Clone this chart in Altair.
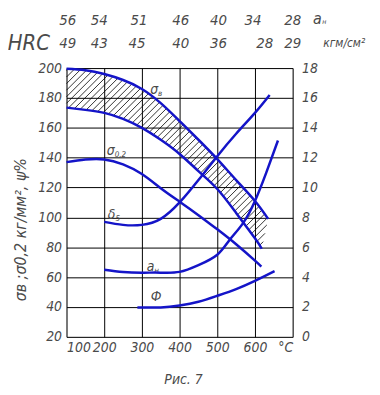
import altair as alt
import pandas as pd
import numpy as np

# ---- data (x in °C) ----
sv_x = [100, 150, 200, 250, 300, 350, 400, 450, 500, 550, 600, 635]
sv_y = [199.5, 198.5, 196, 192, 186, 176.5, 164.5, 152, 139, 125, 111, 99]
band_x = [100, 150, 200, 250, 300, 350, 400, 450, 500, 550, 600, 618]
band_y = [173.5, 172, 170, 166, 160, 152, 142.5, 131, 119, 103, 86, 79]
s02_x = [100, 150, 200, 250, 300, 350, 400, 450, 500, 550, 600, 617]
s02_y = [137, 138.7, 138.8, 135.5, 129, 119.5, 110.5, 101.5, 92, 82, 71, 67]
d5_x = [200, 250, 300, 350, 400, 450, 500, 550, 600, 639]
d5_y = [7.7, 7.5, 7.5, 7.9, 9.0, 10.5, 12.1, 13.6, 15.0, 16.2]
an_x = [200, 250, 300, 350, 400, 450, 500, 533, 568, 600, 630, 661]
an_y = [4.5, 4.35, 4.3, 4.3, 4.35, 4.8, 5.5, 6.5, 7.6, 9.1, 11.0, 13.15]
phi_x = [288, 350, 400, 450, 500, 550, 600, 652]
phi_y = [1.97, 1.97, 2.1, 2.35, 2.75, 3.2, 3.75, 4.4]

hrc_top = ["56", "54", "51", "46", "40", "34", "28"]
hrc_bot = ["49", "43", "45", "40", "36", "28", "29"]
hrc_x = [103, 187, 292, 403, 503, 595, 700]
hrc_x2 = [103, 187, 287, 403, 503, 626, 700]

left_ticks = list(range(20, 201, 20))
right_ticks = list(range(0, 19, 2))
x_ticks = list(range(100, 701, 100))

W, H = 228, 271
FONT = "'DejaVu Sans Condensed', 'Liberation Sans Narrow', 'DejaVu Sans'"
TXT = "#4a4a4a"
BLUE = "#1414c8"

xs = alt.Scale(domain=[100, 700], nice=False)
ysL = alt.Scale(domain=[20, 200], nice=False)
ysR = alt.Scale(domain=[0, 18], nice=False)

def curve(xv, yv, name):
    return pd.DataFrame({"t": xv, "v": yv, "name": name, "o": range(len(xv))})

left_df = pd.concat([curve(sv_x, sv_y, "sv"), curve(band_x, band_y, "band"),
                     curve(s02_x, s02_y, "s02")])
right_df = pd.concat([curve(d5_x, d5_y, "d5"), curve(an_x, an_y, "an"),
                      curve(phi_x, phi_y, "phi")])

# hatch lines between the two band edges ("/" at 45 deg in pixels)
kx = W / 600.0
ky = H / 180.0
slope = kx / ky
xd = np.linspace(100, 635, 4000)
up = np.interp(xd, sv_x, sv_y)
lo = np.interp(xd, band_x, band_y)
rows = []
for c in np.arange(-70, 205, 4.4):
    yl = c + slope * (xd - 100)
    xr = band_x[-1] + (yl - band_y[-1]) * (sv_x[-1] - band_x[-1]) / (sv_y[-1] - band_y[-1])
    inside = (yl <= up) & (yl >= lo) & (xd <= xr)
    if inside.sum() > 3:
        idx = np.where(inside)[0]
        rows.append({"t": xd[idx[0]], "v": yl[idx[0]], "t2": xd[idx[-1]], "v2": yl[idx[-1]]})
hatch_df = pd.DataFrame(rows)

lab_kw = dict(labelFont=FONT, labelFontStyle="italic", labelFontSize=14,
              labelColor=TXT, labelOverlap=False)
ax_x = alt.Axis(values=x_ticks, grid=True, gridColor="black", gridOpacity=1, gridWidth=1,
                ticks=False, domain=False, labelPadding=4,
                labelExpr="datum.value == 700 ? '°C' : datum.label", title=None, **lab_kw)
ax_l = alt.Axis(values=left_ticks, grid=True, gridColor="black", gridOpacity=1, gridWidth=1,
                ticks=False, domain=False, labelPadding=5, title=None, **lab_kw)
ax_r = alt.Axis(values=right_ticks, grid=False, orient="right", ticks=False,
                domain=False, labelPadding=9, title=None, **lab_kw)

X = alt.X("t:Q", scale=xs, axis=ax_x)
YL = alt.Y("v:Q", scale=ysL, axis=ax_l)

hatch = alt.Chart(hatch_df).mark_rule(color="black", strokeWidth=0.8).encode(
    x=X, y=YL, x2="t2:Q", y2="v2:Q")

left_lines = alt.Chart(left_df).mark_line(color=BLUE, strokeWidth=2.5,
                                           interpolate="natural").encode(
    x=X, y=YL, detail="name:N", order="o:Q")

# curve labels (left units)
lab_main = ["σ", "σ", "δ", "a", "Ф"]
lab_sub = ["в", "0,2", "5", "н", ""]
lab_t = [343, 228, 230, 333, 352]
lab_v = [185.5, 144.5, 101.5, 66.5, 47]
lab_df = pd.DataFrame({"t": lab_t, "v": lab_v, "m": lab_main, "s": lab_sub})
labels_m = alt.Chart(lab_df).mark_text(font=FONT, fontStyle="italic",
                                       fontSize=14, color=TXT, align="right",
                                       baseline="middle").encode(
    x=X, y=YL, text="m:N")
labels_s = alt.Chart(lab_df).mark_text(font=FONT, fontStyle="italic",
                                       fontSize=8, color=TXT, align="left",
                                       baseline="middle", dy=4).encode(
    x=X, y=YL, text="s:N")

# top HRC rows
top_df = pd.DataFrame({"t": hrc_x, "lab": hrc_top})
bot_df = pd.DataFrame({"t": hrc_x2, "lab": hrc_bot})
top_txt = alt.Chart(top_df).mark_text(font=FONT, fontStyle="italic",
                                      fontSize=15, color=TXT, baseline="middle").encode(
    x=X, y=alt.value(-48), text="lab:N")
bot_txt = alt.Chart(bot_df).mark_text(font=FONT, fontStyle="italic",
                                      fontSize=15, color=TXT, baseline="middle").encode(
    x=X, y=alt.value(-25), text="lab:N")

def note(text, x, y, size=14, angle=0, align="center"):
    return alt.Chart(pd.DataFrame({"a": [text]})).mark_text(
        font=FONT, fontStyle="italic", fontSize=size, color=TXT,
        angle=angle, align=align, baseline="middle").encode(
        x=alt.value(x), y=alt.value(y), text="a:N")

notes = [
    note("HRC", -38, -25, size=22),
    note("a", 253, -49, size=16),
    note("н", 260, -46, size=7),
    note("кгм/см²", 280, -25, size=12),
    note("σв ;σ0,2 кг/мм², ψ%", -46, 163, size=16, angle=270),
    note("Рис. 7", 118, 315, size=14),
]

left = alt.layer(hatch, left_lines, labels_m, labels_s, top_txt, bot_txt, *notes)

right = alt.Chart(right_df).mark_line(color=BLUE, strokeWidth=2.5,
                                       interpolate="natural").encode(
    x=X, y=alt.Y("v:Q", scale=ysR, axis=ax_r),
    detail="name:N", order="o:Q")

chart = alt.layer(left, right).resolve_scale(y="independent").properties(
    width=W, height=H, autosize=alt.AutoSizeParams(type="none"),
    padding={"left": 59, "top": 59, "right": 80, "bottom": 50},
).configure_view(stroke="black", strokeWidth=1.2).configure(background="white")

chart.save("out.html", embed_options={"renderer": "svg", "actions": False})
